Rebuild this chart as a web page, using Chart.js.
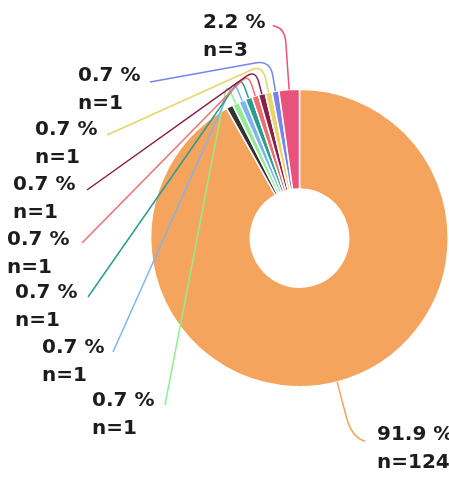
<!DOCTYPE html>
<html>
<head>
<meta charset="utf-8">
<script src="https://cdn.jsdelivr.net/npm/chart.js@4"></script>
<style>
  html, body { margin: 0; padding: 0; background: #fff; }
  #wrap { width: 449px; height: 478px; position: relative; }
</style>
</head>
<body>
<div id="wrap"><canvas id="chart"></canvas></div>
<script>
const categories = ['Gruppe 1', 'Gruppe 2', 'Gruppe 3', 'Gruppe 4', 'Gruppe 5',
                    'Gruppe 6', 'Gruppe 7', 'Gruppe 8', 'Gruppe 9', 'Gruppe 10'];
const counts = [124, 1, 1, 1, 1, 1, 1, 1, 1, 3];
const showLabel = [true, false, true, true, true, true, true, true, true, true];
const sliceColors = ['#f5a45d', '#333333', '#90ee90', '#7fb4f0', '#2a9d8f',
                     '#f26d6d', '#8b1f3f', '#e8d46a', '#7584ee', '#e8527c'];

// label text position (left x, first line middle y), leader end, radial run and corner radius
const labelLayout = [
  { tx: 377, ty: 435, ex: 364, ey: 441, rA: 185, rB: 206, bend: 14 },
  null,
  { tx: 92, ty: 401, ex: 165, ey: 405, rA: 160, rB: 170, bend: 8 },
  { tx: 42, ty: 348, ex: 113, ey: 352, rA: 160, rB: 170, bend: 8 },
  { tx: 15, ty: 293, ex: 88, ey: 297, rA: 160, rB: 171, bend: 9 },
  { tx: 7, ty: 240, ex: 82, ey: 243, rA: 160, rB: 172, bend: 10 },
  { tx: 13, ty: 185, ex: 87, ey: 190, rA: 161, rB: 174, bend: 11 },
  { tx: 35, ty: 130, ex: 107, ey: 135, rA: 162, rB: 177, bend: 12 },
  { tx: 78, ty: 76, ex: 150, ey: 82, rA: 164, rB: 180, bend: 14 },
  { tx: 203, ty: 23, ex: 275, ey: 26, rA: 196, rB: 211, bend: 12 }
];

const total = counts.reduce((a, b) => a + b, 0);

const leaderLabels = {
  id: 'leaderLabels',
  afterDatasetsDraw(chart) {
    const ctx = chart.ctx;
    const arcs = chart.getDatasetMeta(0).data;
    ctx.save();
    arcs.forEach((arc, i) => {
      const lay = labelLayout[i];
      if (!showLabel[i] || !lay) return;
      const p = arc.getProps(['x', 'y', 'startAngle', 'endAngle', 'outerRadius'], true);
      const mid = (p.startAngle + p.endAngle) / 2;
      const cos = Math.cos(mid), sin = Math.sin(mid);
      const at = r => [p.x + cos * r, p.y + sin * r];
      const s = at(p.outerRadius);
      const a = at(lay.rA);
      const b = at(lay.rB);
      const dx = lay.ex - b[0], dy = lay.ey - b[1];
      const len = Math.hypot(dx, dy);
      const q = [b[0] + dx / len * lay.bend, b[1] + dy / len * lay.bend];
      ctx.beginPath();
      ctx.moveTo(s[0], s[1]);
      ctx.lineTo(a[0], a[1]);
      ctx.quadraticCurveTo(b[0], b[1], q[0], q[1]);
      ctx.lineTo(lay.ex, lay.ey);
      ctx.strokeStyle = sliceColors[i];
      ctx.lineWidth = 1.5;
      ctx.stroke();

      ctx.fillStyle = '#1c1c1c';
      ctx.font = 'bold 20px "DejaVu Sans"';
      ctx.textAlign = 'left';
      ctx.textBaseline = 'middle';
      const pct = (counts[i] / total * 100).toFixed(1) + ' %';
      ctx.fillText(pct, lay.tx, lay.ty);
      ctx.fillText('n=' + counts[i], lay.tx, lay.ty + 28);
    });
    ctx.restore();
  }
};

new Chart(document.getElementById('chart'), {
  type: 'doughnut',
  data: {
    labels: categories,
    datasets: [{
      data: counts,
      backgroundColor: sliceColors,
      borderColor: '#ffffff',
      borderWidth: 1.5
    }]
  },
  options: {
    responsive: true,
    maintainAspectRatio: false,
    animation: false,
    cutout: '33%',
    layout: { padding: { left: 150, right: 0, top: 88, bottom: 90 } },
    plugins: {
      legend: { display: false },
      tooltip: { enabled: false }
    }
  },
  plugins: [leaderLabels]
});
</script>
</body>
</html>
